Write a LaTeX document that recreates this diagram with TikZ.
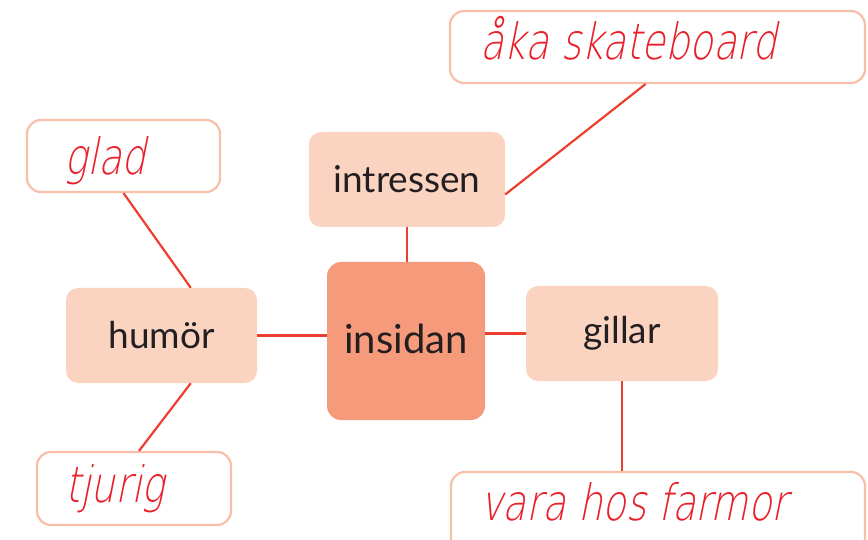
\documentclass[tikz,border=0pt]{standalone}
\usepackage{fontspec}
\setmainfont{Lato}
\newfontfamily\hand[FakeSlant=0.2,FakeStretch=0.77]{DejaVu Sans ExtraLight}
\definecolor{boxlight}{HTML}{FBD3C1}
\definecolor{boxdark}{HTML}{F59A7B}
\definecolor{edgecol}{HTML}{F8BFA8}
\definecolor{linecol}{HTML}{EE3E30}
\definecolor{handred}{HTML}{E8202A}
\definecolor{txt}{HTML}{231F20}
\begin{document}
\begin{tikzpicture}[x=1pt,y=-1pt,
  topic/.style={fill=boxlight, rounded corners=12pt, inner sep=0pt, text=txt, font=\fontsize{37}{40}\selectfont},
  core/.style={fill=boxdark, rounded corners=14pt, inner sep=0pt, text=txt, font=\fontsize{40}{44}\selectfont},
  answer/.style={draw=edgecol, line width=2.2pt, fill=white, rounded corners=14pt, inner sep=0pt},
  hw/.style={anchor=base west, inner sep=0pt, text=handred, font=\hand\fontsize{50}{54}\selectfont},
  link/.style={draw=linecol, line width=2.2pt}]
\useasboundingbox (0,0) rectangle (868,540);
% answer boxes
\node[answer, minimum width=415pt, minimum height=72pt] (skate) at (657.5,47) {};
\node[answer, minimum width=193pt, minimum height=72pt] (glad) at (123.5,156) {};
\node[answer, minimum width=194pt, minimum height=73pt] (tjurig) at (134,488.5) {};
\node[answer, minimum width=414pt, minimum height=90pt] (vara) at (658,517) {};
% topic boxes
\node[topic, minimum width=196pt, minimum height=95pt] (intressen) at (407,179.5) {intressen};
\node[topic, minimum width=191pt, minimum height=95pt] (humor) at (161.5,335.5) {humör};
\node[topic, minimum width=192pt, minimum height=95pt] (gillar) at (622,333.5) {gillar};
\node[core, minimum width=158pt, minimum height=158pt] (insidan) at (406,341) {\raisebox{4pt}{insidan}};
% handwriting
\node[hw] (tskate) at (480,60) {åka skateboard};
\node[hw] (tglad) at (64,175) {glad};
\node[hw] (ttjurig) at (65,502) {tjurig};
\node[hw] (tvara) at (480,520) {vara hos farmor};
% connectors
\draw[link] (humor.east) -- (humor.east -| insidan.west);
\draw[link] (insidan.east |- gillar.west) -- (gillar.west);
\draw[link] (intressen.south) -- (intressen.south |- insidan.north);
\draw[link] ([yshift=-15pt]intressen.east) -- ([xshift=-12pt]skate.south);
\draw[link] (gillar.south) -- (gillar.south |- vara.north);
\draw[link] (glad.south) -- ([xshift=125pt]humor.north west);
\draw[link] ([xshift=125pt]humor.south west) -- ([xshift=5pt]tjurig.north);
\end{tikzpicture}
\end{document}
